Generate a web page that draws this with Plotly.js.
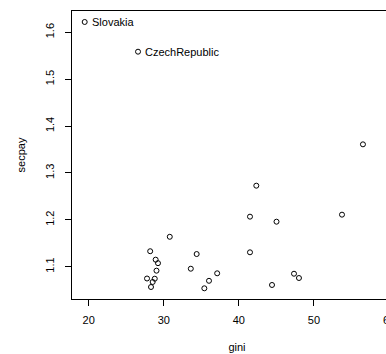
<!DOCTYPE html>
<html>
<head>
<meta charset="utf-8">
<script src="https://cdn.plot.ly/plotly-3.0.1.min.js"></script>
<style>
html, body { margin: 0; padding: 0; overflow: hidden; background: #fff; }
#chart { width: 440px; height: 354px; }
</style>
</head>
<body>
<div id="chart"></div>
<script>
// Data
const gini = [19.47, 26.57, 56.52, 42.32, 41.48, 45.01, 53.73, 41.48, 30.80, 28.19, 34.38, 28.92, 29.23, 29.03, 33.60, 27.77, 28.80, 28.52, 28.30, 37.11, 36.02, 35.40, 44.41, 47.34, 48.00];
const secpay = [1.622, 1.5586, 1.361, 1.2728, 1.2067, 1.196, 1.211, 1.1307, 1.1638, 1.133, 1.127, 1.115, 1.1075, 1.0915, 1.0957, 1.0748, 1.0744, 1.0674, 1.0567, 1.0859, 1.0699, 1.0539, 1.061, 1.085, 1.0759];
const labels = ["Slovakia", "CzechRepublic", "", "", "", "", "", "", "", "", "", "", "", "", "", "", "", "", "", "", "", "", "", "", ""];
const xTicks = [20, 30, 40, 50, 60];
const yTicks = [1.1, 1.2, 1.3, 1.4, 1.5, 1.6];

const FONT = "Liberation Sans, Arial, Helvetica, sans-serif";

const trace = {
  type: "scatter",
  mode: "markers",
  x: gini,
  y: secpay,
  marker: { symbol: "circle-open", size: 5, color: "#000", line: { width: 1, color: "#000" } },
  cliponaxis: false,
  hoverinfo: "x+y"
};

const annotations = [];
labels.forEach((t, i) => {
  if (t) {
    annotations.push({
      x: gini[i], y: secpay[i], xref: "x", yref: "y",
      text: t, showarrow: false, xanchor: "left", yanchor: "middle",
      xshift: 5, font: { family: FONT, size: 11, color: "#000" }
    });
  }
});

const axisCommon = {
  showgrid: false,
  zeroline: false,
  showline: true,
  mirror: true,
  linecolor: "#000",
  linewidth: 1,
  ticks: "outside",
  ticklen: 6,
  tickwidth: 1,
  tickcolor: "#000",
  tickfont: { family: FONT, size: 11, color: "#000" }
};

const layout = {
  width: 440,
  height: 354,
  margin: { l: 72, r: 38, t: 11, b: 55, pad: 0 },
  font: { family: FONT, size: 11, color: "#000" },
  paper_bgcolor: "#fff",
  plot_bgcolor: "#fff",
  showlegend: false,
  annotations: annotations,
  xaxis: Object.assign({}, axisCommon, {
    range: [17.78, 61.72],
    tickvals: xTicks,
    ticktext: xTicks.map(String),
    ticklabelstandoff: 5,
    title: { text: "gini", font: { family: FONT, size: 11, color: "#000" }, standoff: 18 }
  }),
  yaxis: Object.assign({}, axisCommon, {
    range: [1.0311, 1.6454],
    tickvals: yTicks,
    ticktext: yTicks.map(v => v.toFixed(1)),
    tickangle: -90,
    ticklabelstandoff: 7,
    title: { text: "secpay", font: { family: FONT, size: 11, color: "#000" }, standoff: 15 }
  })
};

Plotly.newPlot("chart", [trace], layout, { displayModeBar: false, staticPlot: true });
</script>
</body>
</html>
